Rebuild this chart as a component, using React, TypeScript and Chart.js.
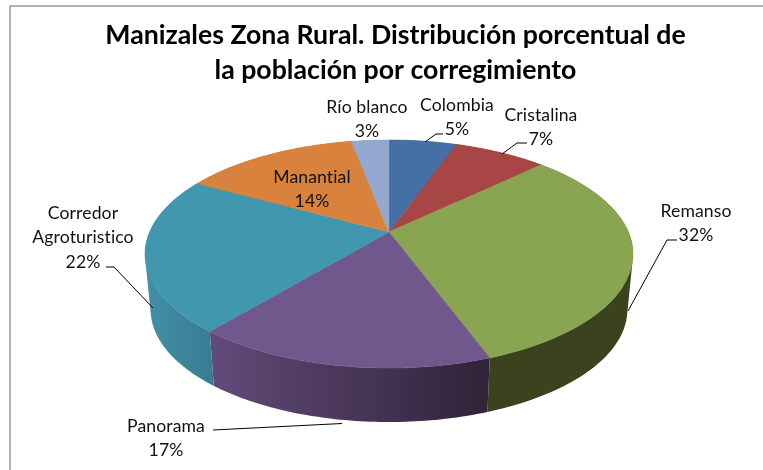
import React, { useEffect, useRef } from "react";
import { Chart, registerables } from "chart.js";

Chart.register(...registerables);

const titleLines = ["Manizales Zona Rural. Distribución porcentual de", "la población por corregimiento"];
const categories = ["Colombia", "Cristalina", "Remanso", "Panorama", "Corredor Agroturistico", "Manantial", "Río blanco"];
const shares = [5.4, 7.4, 31.6, 16.6, 22, 14, 3];
const topColors = ["#4470a5", "#a74644", "#8aa551", "#70578c", "#4197ae", "#d9823d", "#93a9cf"];
const wallFrom = ["#35577f", "#7f3533", "#3a421e", "#624b7a", "#4290a8", "#a5632e", "#6f809c"];
const wallTo = ["#35577f", "#7f3533", "#3a421e", "#302238", "#397c92", "#a5632e", "#6f809c"];

// label layout: centre x, first-line y, line list comes from the category name
const labelLines = [["Colombia"], ["Cristalina"], ["Remanso"], ["Panorama"], ["Corredor", "Agroturistico"], ["Manantial"], ["Río blanco"]];
const labelX = [457, 541, 696, 166, 83, 312, 367];
const labelY = [105, 115, 211, 426, 213, 177, 107];
const leaderLines: number[][][] = [
  [[425, 142], [436, 134], [443, 134]],
  [[502, 154], [517, 143], [527, 143]],
  [[628, 311], [667, 240], [677, 240]],
  [[342, 423.5], [213, 430]],
  [[153, 308], [114, 267], [106, 267]],
  [],
  [],
];

const view = {
  cx: 389, topY: 232, bottomY: 288, rx: 239.4, ry: 109.8, k: 0.193, bottomScale: 0.977,
  frameX: 10, frameY: 6,
};

type Pt = [number, number];

function project(theta: number, isBottom: boolean): Pt {
  const c = Math.cos(theta);
  const s = Math.sin(theta);
  const d = 1 - view.k * s;
  const f = isBottom ? view.bottomScale : 1;
  return [view.cx + (view.rx * f * c) / d, (isBottom ? view.bottomY : view.topY) + (view.ry * (isBottom ? 0.985 : 1) * s) / d];
}

function signedArea(q: Pt[]) {
  let sum = 0;
  q.forEach((p, i) => {
    const o = q[(i + 1) % q.length];
    sum += p[0] * o[1] - o[0] * p[1];
  });
  return sum;
}

const pie3d = {
  id: "pie3d",
  beforeDraw(chart: any) {
    const { ctx, width, height } = chart;
    ctx.save();
    ctx.fillStyle = "#ffffff";
    ctx.fillRect(0, 0, width, height);
    ctx.strokeStyle = "#8c8c8c";
    ctx.lineWidth = 1.3;
    ctx.strokeRect(view.frameX, view.frameY, width + 20, height + 20);
    ctx.restore();
  },
  beforeDatasetsDraw(chart: any) {
    const { ctx } = chart;
    const arcs = chart.getDatasetMeta(0).data;
    const steps = 60;
    ctx.save();
    // side walls: one path of same-wound quads, so the silhouette is the full envelope without seams
    arcs.forEach((arc: any, i: number) => {
      const a = arc.startAngle;
      const b = arc.endAngle;
      const top: Pt[] = [];
      const bottom: Pt[] = [];
      for (let n = 0; n <= steps; n++) {
        const t = a + ((b - a) * n) / steps;
        top.push(project(t, false));
        bottom.push(project(t, true));
      }
      const xs = top.concat(bottom).filter((p) => p[1] > view.topY).map((p) => p[0]);
      const minX = xs.length ? Math.min(...xs) : view.cx;
      const maxX = xs.length ? Math.max(...xs) : view.cx + 1;
      const g = ctx.createLinearGradient(minX, 0, maxX, 0);
      g.addColorStop(0, wallFrom[i]);
      g.addColorStop(1, wallTo[i]);
      ctx.fillStyle = g;
      ctx.beginPath();
      for (let n = 0; n < steps; n++) {
        const q: Pt[] = [top[n], top[n + 1], bottom[n + 1], bottom[n]];
        if (signedArea(q) < 0) q.reverse();
        ctx.moveTo(q[0][0], q[0][1]);
        ctx.lineTo(q[1][0], q[1][1]);
        ctx.lineTo(q[2][0], q[2][1]);
        ctx.lineTo(q[3][0], q[3][1]);
        ctx.closePath();
      }
      ctx.fill();
    });
    // top faces
    arcs.forEach((arc: any, i: number) => {
      const a = arc.startAngle;
      const b = arc.endAngle;
      ctx.fillStyle = topColors[i];
      ctx.strokeStyle = topColors[i];
      ctx.lineWidth = 0.5;
      ctx.beginPath();
      ctx.moveTo(view.cx, view.topY);
      for (let n = 0; n <= steps; n++) {
        const p = project(a + ((b - a) * n) / steps, false);
        ctx.lineTo(p[0], p[1]);
      }
      ctx.closePath();
      ctx.fill();
      ctx.stroke();
    });
    // leader lines
    ctx.strokeStyle = "#000000";
    ctx.lineWidth = 1;
    leaderLines.forEach((pts) => {
      if (!pts.length) return;
      ctx.beginPath();
      pts.forEach((p, n) => (n ? ctx.lineTo(p[0], p[1]) : ctx.moveTo(p[0], p[1])));
      ctx.stroke();
    });
    // data labels
    ctx.fillStyle = "#111111";
    ctx.font = "17.6px Lato";
    ctx.letterSpacing = "0.1px";
    ctx.textAlign = "center";
    ctx.textBaseline = "middle";
    shares.forEach((v, i) => {
      const lines = [...labelLines[i], Math.round(v) + "%"];
      lines.forEach((line, n) => ctx.fillText(line, labelX[i], labelY[i] + n * 24.5));
    });
    ctx.restore();
    return false;
  },
};

export default function App() {
  const ref = useRef<HTMLCanvasElement | null>(null);
  useEffect(() => {
    document.body.style.margin = "0";
    const chart = new Chart(ref.current as HTMLCanvasElement, {
      type: "pie",
      data: {
        labels: categories,
        datasets: [{ data: shares, backgroundColor: topColors }],
      },
      options: {
        animation: false,
        responsive: false,
        layout: { padding: { left: 28, top: 0 } },
        plugins: {
          legend: { display: false },
          tooltip: { enabled: false },
          title: {
            display: true,
            text: titleLines,
            color: "#000000",
            font: { family: "Lato", size: 26.7, weight: "bold", lineHeight: 1.31 },
            padding: { top: 18, bottom: 10 },
          },
        },
      },
      plugins: [pie3d],
    } as any);
    return () => chart.destroy();
  }, []);
  return (
    <div style={{ width: 763, height: 470 }}>
      <canvas ref={ref} width={763} height={470} style={{ display: "block", filter: "blur(0.4px)" }} />
    </div>
  );
}
